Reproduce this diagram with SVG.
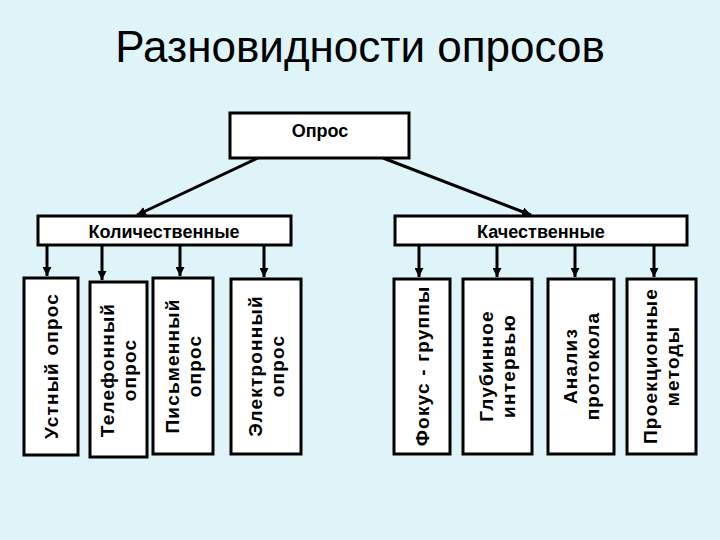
<svg xmlns="http://www.w3.org/2000/svg" width="720" height="540" viewBox="0 0 720 540">
<defs>
<marker id="ah" viewBox="0 0 10 10" refX="10" refY="5" markerWidth="9" markerHeight="9" markerUnits="userSpaceOnUse" orient="auto"><path d="M0,0 L10,5 L0,10 z" fill="#000"/></marker>
<style>
.b{fill:#fff;stroke:#000;stroke-width:3}
.t{font-family:"Liberation Sans",Arial,sans-serif;font-weight:bold;font-size:18px;fill:#000;text-anchor:middle}
.v{font-size:19px;letter-spacing:1.2px}
.c line{stroke:#000;stroke-width:3;marker-end:url(#ah)}
</style>
</defs>
<rect width="720" height="540" fill="#dff4f9"/>
<text x="360" y="62" font-family="Liberation Sans,Arial,sans-serif" font-size="44" text-anchor="middle">Разновидности опросов</text>
<g class="c">
<line x1="258" y1="158" x2="137" y2="215"/>
<line x1="383" y1="158" x2="531" y2="215"/>
<line x1="47" y1="245" x2="47" y2="276"/>
<line x1="102" y1="245" x2="102" y2="280"/>
<line x1="180" y1="245" x2="180" y2="276"/>
<line x1="264" y1="245" x2="264" y2="277"/>
<line x1="419" y1="245" x2="419" y2="277"/>
<line x1="497" y1="245" x2="497" y2="277"/>
<line x1="575" y1="245" x2="575" y2="277"/>
<line x1="654" y1="245" x2="654" y2="277"/>
</g>
<g id="opros"><rect class="b" x="230" y="113" width="179" height="45"/><text class="t" x="320" y="137">Опрос</text></g>
<g id="kol"><rect class="b" x="38" y="216" width="253" height="29"/><text class="t" x="164" y="238">Количественные</text></g>
<g id="kach"><rect class="b" x="395" y="216" width="292" height="29"/><text class="t" x="541" y="238">Качественные</text></g>
<g id="n1"><rect class="b" x="24" y="278" width="54" height="177"/><text class="t v" transform="translate(58,366) rotate(-90)">Устный опрос</text></g>
<g id="n2"><rect class="b" x="90" y="282" width="57" height="175"/><text class="t v" transform="translate(118,370) rotate(-90)"><tspan x="0" y="-4">Телефонный</tspan><tspan x="0" y="18">опрос</tspan></text></g>
<g id="n3"><rect class="b" x="153" y="278" width="60" height="176"/><text class="t v" transform="translate(183,366) rotate(-90)"><tspan x="0" y="-4">Письменный</tspan><tspan x="0" y="18">опрос</tspan></text></g>
<g id="n4"><rect class="b" x="231" y="279" width="70" height="175"/><text class="t v" transform="translate(266,366) rotate(-90)"><tspan x="0" y="-4">Электронный</tspan><tspan x="0" y="18">опрос</tspan></text></g>
<g id="n5"><rect class="b" x="394" y="279" width="56" height="175"/><text class="t v" transform="translate(429,366) rotate(-90)">Фокус - группы</text></g>
<g id="n6"><rect class="b" x="463" y="279" width="69" height="175"/><text class="t v" transform="translate(497,366) rotate(-90)"><tspan x="0" y="-4">Глубинное</tspan><tspan x="0" y="18">интервью</tspan></text></g>
<g id="n7"><rect class="b" x="548" y="279" width="66" height="175" stroke-width="4"/><text class="t v" transform="translate(581,366) rotate(-90)"><tspan x="0" y="-4">Анализ</tspan><tspan x="0" y="18">протокола</tspan></text></g>
<g id="n8"><rect class="b" x="627" y="279" width="69" height="175"/><text class="t v" transform="translate(661,366) rotate(-90)"><tspan x="0" y="-4">Проекционные</tspan><tspan x="0" y="18">методы</tspan></text></g>
</svg>
